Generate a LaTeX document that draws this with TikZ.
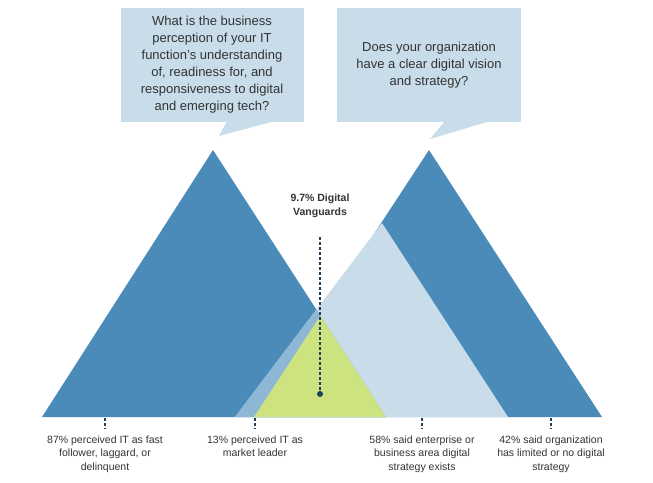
\documentclass[tikz,border=0pt]{standalone}
\usepackage{fontspec}
\setmainfont{Liberation Sans}
\definecolor{dblue}{HTML}{4A8BBA}
\definecolor{lblue}{HTML}{C8DCEA}
\definecolor{mblue}{HTML}{8DB7D5}
\definecolor{lgreen}{HTML}{CCE380}
\definecolor{txt}{HTML}{333333}
\definecolor{navyline}{HTML}{1F3F5F}
\begin{document}
\begin{tikzpicture}[x=1pt,y=-1pt,
  qtext/.style={text=txt,font=\fontsize{13}{17}\selectfont,align=center},
  lbl/.style={text=txt,font=\fontsize{10.5}{13.5}\selectfont,align=center,anchor=north},
  tick/.style={navyline,densely dashed,line width=1.2pt}]
\useasboundingbox (0,0) rectangle (653,482);
% triangles
\fill[dblue] (42,417) -- (213,150) -- (386,417) -- cycle;
\fill[dblue] (254,417) -- (429,150) -- (602,417) -- cycle;
\fill[lblue] (235,417) -- (382,223) -- (508,417) -- cycle;
\begin{scope}
\clip (42,417) -- (213,150) -- (386,417) -- cycle;
\fill[mblue] (235,417) -- (382,223) -- (508,417) -- cycle;
\clip (254,417) -- (429,150) -- (602,417) -- cycle;
\fill[lgreen] (0,0) rectangle (653,482);
\end{scope}
% callouts
\fill[lblue] (121,8) rectangle (304,122);
\fill[lblue] (227,121) -- (275,121) -- (219,136) -- cycle;
\fill[lblue] (337,8) rectangle (521,122);
\fill[lblue] (445,121) -- (490,121) -- (430,139) -- cycle;
\node[qtext] (q1) at (212,65) {What is the business\\perception of your IT\\function's understanding\\of, readiness for, and\\responsiveness to digital\\and emerging tech?};
\node[qtext] (q2) at (429,65) {Does your organization\\have a clear digital vision\\and strategy?};
% vanguards
\node[text=txt,font=\bfseries\fontsize{10.5}{13.5}\selectfont,align=center] (v) at (320,206) {9.7\% Digital\\Vanguards};
\coordinate (vt) at (320,237);
\node[circle,fill=navyline,inner sep=0,minimum size=6pt] (dot) at (320,394) {};
\draw[tick] (vt) -- (dot);
% bottom ticks and labels
\foreach \n/\x/\t in {a/105/{87\% perceived IT as fast\\follower, laggard, or\\delinquent},
  b/255/{13\% perceived IT as\\market leader},
  c/422/{58\% said enterprise or\\business area digital\\strategy exists},
  d/551/{42\% said organization\\has limited or no digital\\strategy}}{
  \coordinate (t\n) at (\x,418);
  \coordinate (b\n) at (\x,429);
  \draw[tick] (t\n) -- (b\n);
  \node[lbl] (l\n) at (\x,432) {\t};
}
\end{tikzpicture}
\end{document}
